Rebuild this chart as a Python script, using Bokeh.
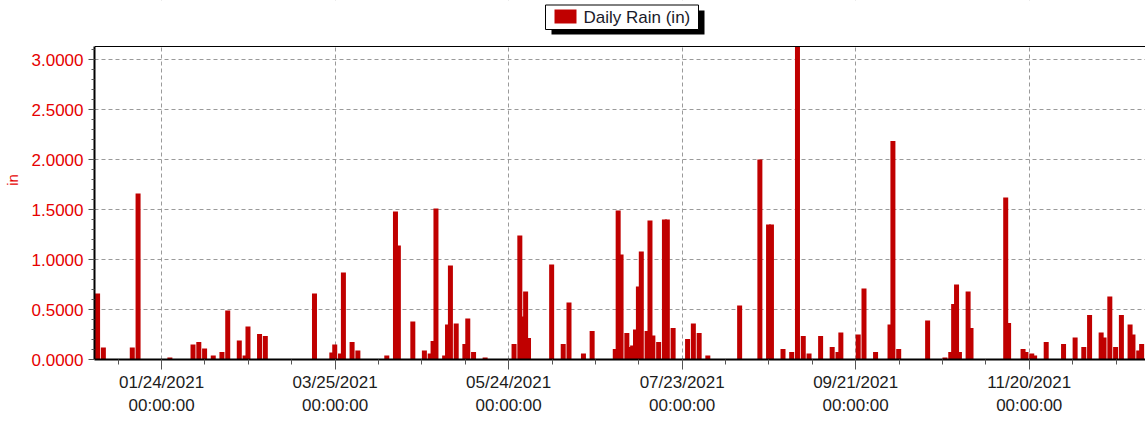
import pandas as pd
from bokeh.plotting import figure
from bokeh.models import (Range1d, FixedTicker, NumeralTickFormatter, Span,
                          BoxAnnotation, LinearAxis)
from bokeh.embed import file_html
from bokeh.resources import INLINE
from bokeh.core.properties import value

# ---------------- data ----------------
rain_dates = [
    "2021-01-01", "2021-01-03", "2021-01-13", "2021-01-15", "2021-01-26",
    "2021-02-03", "2021-02-05", "2021-02-07", "2021-02-10", "2021-02-13",
    "2021-02-15", "2021-02-19", "2021-02-21", "2021-02-22", "2021-02-26",
    "2021-02-28", "2021-03-17", "2021-03-23", "2021-03-24", "2021-03-26",
    "2021-03-27", "2021-03-30", "2021-04-01", "2021-04-11", "2021-04-14",
    "2021-04-15", "2021-04-20", "2021-04-24", "2021-04-26", "2021-04-27",
    "2021-04-28", "2021-05-01", "2021-05-02", "2021-05-03", "2021-05-05",
    "2021-05-08", "2021-05-09", "2021-05-11", "2021-05-15", "2021-05-25",
    "2021-05-27", "2021-05-28", "2021-05-29", "2021-05-30", "2021-06-07",
    "2021-06-11", "2021-06-13", "2021-06-18", "2021-06-21", "2021-06-29",
    "2021-06-30", "2021-07-01", "2021-07-03", "2021-07-04", "2021-07-05",
    "2021-07-06", "2021-07-07", "2021-07-08", "2021-07-10", "2021-07-11",
    "2021-07-12", "2021-07-14", "2021-07-16", "2021-07-17", "2021-07-19",
    "2021-07-24", "2021-07-26", "2021-07-28", "2021-07-31", "2021-08-11",
    "2021-08-18", "2021-08-21", "2021-08-22", "2021-08-26", "2021-08-29",
    "2021-08-31", "2021-09-02", "2021-09-04", "2021-09-08", "2021-09-12",
    "2021-09-14", "2021-09-15", "2021-09-21", "2021-09-23", "2021-09-27",
    "2021-10-02", "2021-10-03", "2021-10-05", "2021-10-15", "2021-10-21",
    "2021-10-23", "2021-10-24", "2021-10-25", "2021-10-26", "2021-10-29",
    "2021-10-30", "2021-11-11", "2021-11-12", "2021-11-17", "2021-11-18",
    "2021-11-20", "2021-11-21", "2021-11-25", "2021-12-01", "2021-12-05",
    "2021-12-08", "2021-12-10", "2021-12-14", "2021-12-15", "2021-12-17",
    "2021-12-19", "2021-12-21", "2021-12-24", "2021-12-25", "2021-12-27",
    "2021-12-28",
]
rain_in = [
    0.66, 0.12, 0.12, 1.66, 0.02,
    0.15, 0.175, 0.11, 0.04, 0.075,
    0.49, 0.19, 0.04, 0.33, 0.255,
    0.235, 0.66, 0.07, 0.15, 0.06,
    0.87, 0.175, 0.09, 0.04, 1.48,
    1.14, 0.38, 0.09, 0.06, 0.185,
    1.51, 0.04, 0.35, 0.94, 0.36,
    0.155, 0.41, 0.075, 0.02, 0.155,
    1.24, 0.43, 0.68, 0.215, 0.95,
    0.155, 0.57, 0.06, 0.285, 0.105,
    1.49, 1.05, 0.265, 0.125, 0.14,
    0.30, 0.73, 1.08, 0.285, 1.39,
    0.24, 0.175, 1.40, 1.40, 0.315,
    0.205, 0.36, 0.265, 0.04, 0.54,
    2.00, 1.35, 1.35, 0.105, 0.075,
    3.13, 0.235, 0.06, 0.235, 0.125,
    0.075, 0.27, 0.25, 0.71, 0.075,
    0.35, 2.185, 0.105, 0.39, 0.02,
    0.075, 0.555, 0.75, 0.075, 0.68,
    0.315, 1.62, 0.365, 0.105, 0.075,
    0.06, 0.04, 0.175, 0.155, 0.22,
    0.125, 0.445, 0.27, 0.22, 0.63,
    0.125, 0.445, 0.35, 0.25, 0.09,
    0.155,
]
tick_dates = ["2021-01-24", "2021-03-25", "2021-05-24",
              "2021-07-23", "2021-09-21", "2021-11-20"]
tick_date_labels = ["01/24/2021", "03/25/2021", "05/24/2021",
                    "07/23/2021", "09/21/2021", "11/20/2021"]
tick_time_labels = ["00:00:00"] * 6
y_ticks = [0.0, 0.5, 1.0, 1.5, 2.0, 2.5, 3.0]
y_top = 3.13
series_name = "Daily Rain (in)"
axis_title = "in"

# ---------------- derived ----------------
origin = pd.Timestamp("2021-01-01")
days = [int((pd.Timestamp(d) - origin).days) for d in rain_dates]
tick_days = [int((pd.Timestamp(d) - origin).days) for d in tick_dates]

BAR_W = 1.73
bar_x = [d + BAR_W / 2 for d in days]

RED = "#c00000"
LABEL_RED = "#e60000"
FONT = "Liberation Sans"

# frame geometry (page px): left 95, right 1146, top 0, bottom 359
X0, X1 = -0.2, 363.2
Y1 = 3.59
FW, FH = 1051, 359


def px2x(px):
    return X0 + (px - 95) * (X1 - X0) / FW


def py2y(py):
    return (FH - py) * Y1 / FH


p = figure(frame_width=FW, frame_height=FH,
           x_range=Range1d(X0, X1), y_range=Range1d(0, Y1),
           output_backend="svg", toolbar_location=None,
           min_border_left=87, min_border_right=0, min_border_top=0, min_border_bottom=0)
p.outline_line_color = None
p.background_fill_color = "white"
p.border_fill_color = "white"

p.vbar(x=bar_x, width=BAR_W, top=rain_in, bottom=0, fill_color=RED, line_color=None)

# blank area above the plotting box (legend zone) + top border line
p.add_layout(BoxAnnotation(bottom=y_top, fill_color="white", fill_alpha=1.0,
                           line_color=None))
p.add_layout(Span(location=y_top, dimension="width", line_color="black", line_width=1.2))

# legend with drop shadow
p.quad(left=[px2x(552)], right=[px2x(705)], top=[py2y(10)], bottom=[py2y(34)],
       fill_color="black", line_color=None, level="overlay")
p.quad(left=[px2x(546)], right=[px2x(699)], top=[py2y(4.5)], bottom=[py2y(29)],
       fill_color="white", line_color="black", line_width=1, level="overlay")
p.quad(left=[px2x(555)], right=[px2x(577)], top=[py2y(9)], bottom=[py2y(23)],
       fill_color=RED, line_color=None, level="overlay")
p.text(x=[px2x(584)], y=[py2y(16.5)], text=[series_name], text_font=value(FONT),
       text_font_size="17px", text_baseline="middle", text_align="left",
       text_color="#1a1a2a", level="overlay")

# ---- x axes (date line + time line) ----
minor_x = list(range(tick_days[0] - 15, 364, 15))
xa = p.xaxis[0]
xa.ticker = FixedTicker(ticks=tick_days, minor_ticks=minor_x)
xa.major_label_overrides = {d: lab for d, lab in zip(tick_days, tick_date_labels)}
xa.major_label_text_font = FONT
xa.major_label_text_font_size = "17px"
xa.major_label_text_color = "#1c1c1c"
xa.major_label_standoff = 3
xa.major_tick_out = 10
xa.major_tick_in = 0
xa.minor_tick_out = 5
xa.minor_tick_in = 0
xa.axis_line_width = 2
xa.axis_line_color = "black"
xa.major_tick_line_color = "#555555"
xa.minor_tick_line_color = "#555555"

xa2 = LinearAxis(ticker=FixedTicker(ticks=tick_days, minor_ticks=[]))
xa2.major_label_overrides = {d: lab for d, lab in zip(tick_days, tick_time_labels)}
xa2.major_label_text_font = FONT
xa2.major_label_text_font_size = "17px"
xa2.major_label_text_color = "#1c1c1c"
xa2.major_label_standoff = 1
xa2.major_tick_out = 0
xa2.major_tick_in = 0
xa2.minor_tick_out = 0
xa2.minor_tick_in = 0
xa2.axis_line_color = None
xa2.major_tick_line_color = None
xa2.minor_tick_line_color = None
p.add_layout(xa2, "below")

# ---- y axis ----
minor_y = [round(i * 0.1, 1) for i in range(0, 32)]
ya = p.yaxis[0]
ya.bounds = (0, y_top)
ya.ticker = FixedTicker(ticks=y_ticks, minor_ticks=minor_y)
ya.formatter = NumeralTickFormatter(format="0.0000")
ya.major_label_text_font = FONT
ya.major_label_text_font_size = "17px"
ya.major_label_text_color = LABEL_RED
ya.major_label_standoff = 5
ya.major_tick_out = 6
ya.major_tick_in = 0
ya.minor_tick_out = 3
ya.minor_tick_in = 0
ya.axis_line_width = 2
ya.axis_line_color = "black"
ya.major_tick_line_color = "#555555"
ya.minor_tick_line_color = "#555555"
ya.axis_label = axis_title
ya.axis_label_text_font = FONT
ya.axis_label_text_font_size = "15px"
ya.axis_label_text_font_style = "normal"
ya.axis_label_text_color = LABEL_RED
ya.axis_label_standoff = 8

for g in (p.xgrid[0], p.ygrid[0]):
    g.grid_line_color = "#9a9a9a"
    g.grid_line_dash = "4 3"
    g.grid_line_width = 1

open("out.html", "w").write(file_html(p, INLINE))
